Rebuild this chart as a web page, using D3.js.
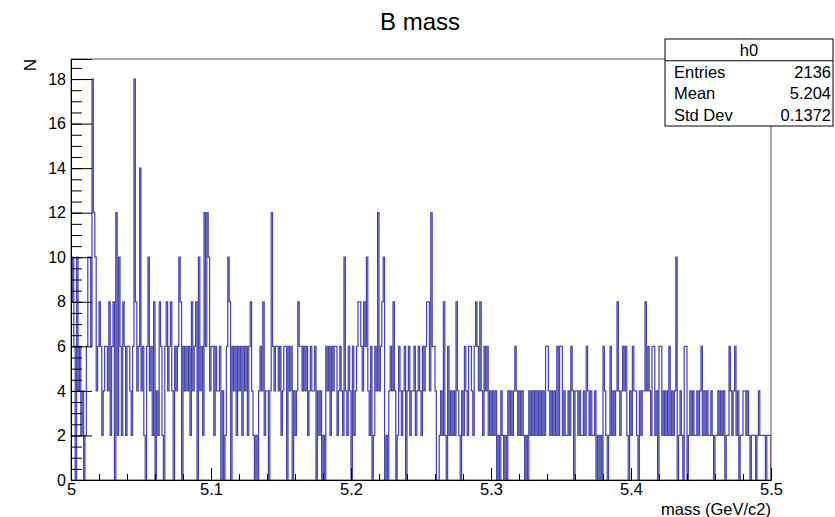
<!DOCTYPE html>
<html>
<head>
<meta charset="utf-8">
<script src="https://cdn.jsdelivr.net/npm/d3@7"></script>
<style>
  body { margin: 0; background: #fff; }
  svg { display: block; font-family: "Liberation Sans", Arial, sans-serif; }
</style>
</head>
<body>
<svg id="chart" width="835" height="517"></svg>
<script>
// histogram h0 : 500 bins between 5 and 5.5 GeV/c2
var xMin = 5, xMax = 5.5;
var counts = [
  8,10,6,0,10,4,6,2,4,0,2,6,10,10,6,18,12,10,4,6,8,6,2,4,6,6,4,8,2,6,8,0,12,2,10,6,2,8,6,2,6,
  6,4,2,6,18,8,4,6,14,4,6,2,0,6,10,4,6,2,8,0,4,2,8,6,2,0,6,8,4,6,8,4,0,6,4,6,10,8,0,6,4,6,4,
  6,2,8,4,6,8,0,10,4,6,2,12,6,12,10,4,6,6,2,6,4,4,6,0,4,0,2,6,10,8,0,6,4,6,2,6,4,6,2,6,4,6,
  2,6,8,4,2,0,2,0,4,6,4,8,2,4,4,0,4,12,6,4,6,6,4,6,2,4,6,6,0,6,4,6,0,4,2,4,8,6,6,4,6,
  4,6,2,4,6,4,4,6,0,4,2,4,0,2,0,6,4,6,2,6,4,6,6,2,4,6,4,2,10,4,2,6,4,0,6,2,4,6,8,8,6,4,
  8,6,10,4,2,6,0,2,6,4,12,4,6,8,10,0,2,0,4,6,4,8,4,0,2,6,4,2,4,6,0,4,6,2,4,4,6,2,4,6,4,2,
  6,4,6,8,8,4,12,6,6,4,0,0,2,4,2,8,2,0,6,2,4,2,4,2,8,4,2,0,4,2,6,4,2,6,6,4,2,6,8,6,4,
  8,4,2,6,4,6,2,4,2,4,2,4,0,2,0,4,2,0,2,0,4,2,4,2,4,6,4,2,4,2,4,2,0,2,0,4,2,4,2,4,2,
  4,2,4,2,4,2,6,6,4,2,4,2,4,2,6,2,6,6,2,4,2,2,4,2,6,4,0,4,4,2,4,2,2,4,2,6,4,2,4,2,2,4,
  0,2,0,2,0,6,4,2,0,2,6,2,4,2,4,8,4,2,4,6,4,6,2,0,4,2,6,4,4,2,0,4,2,4,4,8,4,6,4,2,6,
  6,2,4,0,6,6,2,4,2,4,2,6,2,4,2,4,10,0,2,4,2,0,6,6,0,2,4,2,4,2,2,4,2,4,6,2,4,2,4,2,2,
  4,2,0,2,2,4,2,4,2,4,0,2,2,6,4,2,4,6,2,4,0,2,2,4,4,2,4,2,0,2,2,2,0,2,4,2,2,2,2,0,2,2,2
];
var xTickValues = [5, 5.1, 5.2, 5.3, 5.4, 5.5];
var xTickLabels = ["5", "5.1", "5.2", "5.3", "5.4", "5.5"];
var yTickValues = [0, 2, 4, 6, 8, 10, 12, 14, 16, 18];
var yTickLabels = ["0", "2", "4", "6", "8", "10", "12", "14", "16", "18"];
var statNames = ["Entries", "Mean", "Std Dev"];
var statValues = ["2136", "5.204", "0.1372"];

var svg = d3.select("#chart");
var frameL = 71, frameR = 771, frameT = 59, frameB = 480;

var nBins = counts.length;
var binW = (xMax - xMin) / nBins;
var x = d3.scaleLinear().domain([xMin, xMax]).range([frameL, frameR]);
var y = d3.scaleLinear().domain([0, d3.max(counts) * 1.05]).range([frameB, frameT]);

// title
svg.append("text")
    .attr("x", 420).attr("y", 30)
    .attr("text-anchor", "middle")
    .style("font-size", "24px")
    .text("B mass");

// frame
svg.append("rect")
    .attr("x", frameL).attr("y", frameT)
    .attr("width", frameR - frameL).attr("height", frameB - frameT)
    .attr("fill", "none").attr("stroke", "#555").attr("stroke-width", 1);

svg.append("clipPath").attr("id", "clip")
    .append("rect")
    .attr("x", frameL).attr("y", frameT)
    .attr("width", frameR - frameL).attr("height", frameB - frameT);

// histogram outline
var pts = counts.map(function(c, i){ return [xMin + i * binW, c]; });
pts.push([xMax, counts[nBins - 1]]);
pts.unshift([xMin, 0]);
pts.push([xMax, 0]);

var line = d3.line()
    .x(function(d){ return x(d[0]); })
    .y(function(d){ return y(d[1]); })
    .curve(d3.curveStepAfter);

svg.append("path")
    .datum(pts)
    .attr("clip-path", "url(#clip)")
    .attr("d", line)
    .attr("fill", "none")
    .attr("stroke", "#3434a8")
    .attr("stroke-width", 1.25)
    .attr("stroke-opacity", 0.9);

// x axis
var xMinor = d3.range(0, 26).map(function(i){ return xMin + i * 0.02; });
svg.append("g")
    .attr("transform", "translate(0," + frameB + ")")
    .call(d3.axisBottom(x).tickValues(xMinor).tickSize(-6).tickFormat(""))
    .call(function(g){ g.select(".domain").remove(); });

var gx = svg.append("g")
    .attr("transform", "translate(0," + frameB + ")")
    .call(d3.axisBottom(x).tickValues(xTickValues).tickSize(-12).tickPadding(3.5)
        .tickFormat(function(d, i){ return xTickLabels[i]; }));
gx.select(".domain").attr("stroke", "#000");
gx.selectAll("text").style("font-size", "16.5px").attr("fill", "#000");

// y axis
var yMinor = d3.range(0, 38).map(function(i){ return i * 0.5; });
svg.append("g")
    .attr("transform", "translate(" + frameL + ",0)")
    .call(d3.axisLeft(y).tickValues(yMinor).tickSize(-11).tickFormat(""))
    .call(function(g){ g.select(".domain").remove(); });

var gy = svg.append("g")
    .attr("transform", "translate(" + frameL + ",0)")
    .call(d3.axisLeft(y).tickValues(yTickValues).tickSize(-21).tickPadding(5)
        .tickFormat(function(d, i){ return yTickLabels[i]; }));
gy.select(".domain").attr("stroke", "#000");
gy.selectAll("text").style("font-size", "16px").attr("fill", "#000");

// axis titles
svg.append("text")
    .attr("transform", "translate(36,59) rotate(-90)")
    .attr("text-anchor", "end")
    .style("font-size", "17px")
    .text("N");

svg.append("text")
    .attr("x", frameR).attr("y", 514.5)
    .attr("text-anchor", "end")
    .style("font-size", "16.5px")
    .text("mass (GeV/c2)");

// stats box
var sb = svg.append("g");
var bx = 665, by = 39, bw = 168, rowH = 21.75;
sb.append("rect")
    .attr("x", bx).attr("y", by)
    .attr("width", bw).attr("height", rowH * 4)
    .attr("fill", "#fff").attr("stroke", "#000").attr("stroke-width", 1);
sb.append("line")
    .attr("x1", bx).attr("x2", bx + bw)
    .attr("y1", by + rowH).attr("y2", by + rowH)
    .attr("stroke", "#000");
sb.append("text")
    .attr("x", bx + bw / 2).attr("y", by + rowH / 2 + 6)
    .attr("text-anchor", "middle")
    .style("font-size", "16.5px")
    .text("h0");
statNames.forEach(function(n, i){
    var yy = by + rowH * (i + 1) + rowH / 2 + 6;
    sb.append("text").attr("x", bx + 9).attr("y", yy)
        .style("font-size", "16.5px").text(n);
    sb.append("text").attr("x", bx + bw - 2).attr("y", yy)
        .attr("text-anchor", "end")
        .style("font-size", "16.5px").text(statValues[i]);
});
</script>
</body>
</html>
